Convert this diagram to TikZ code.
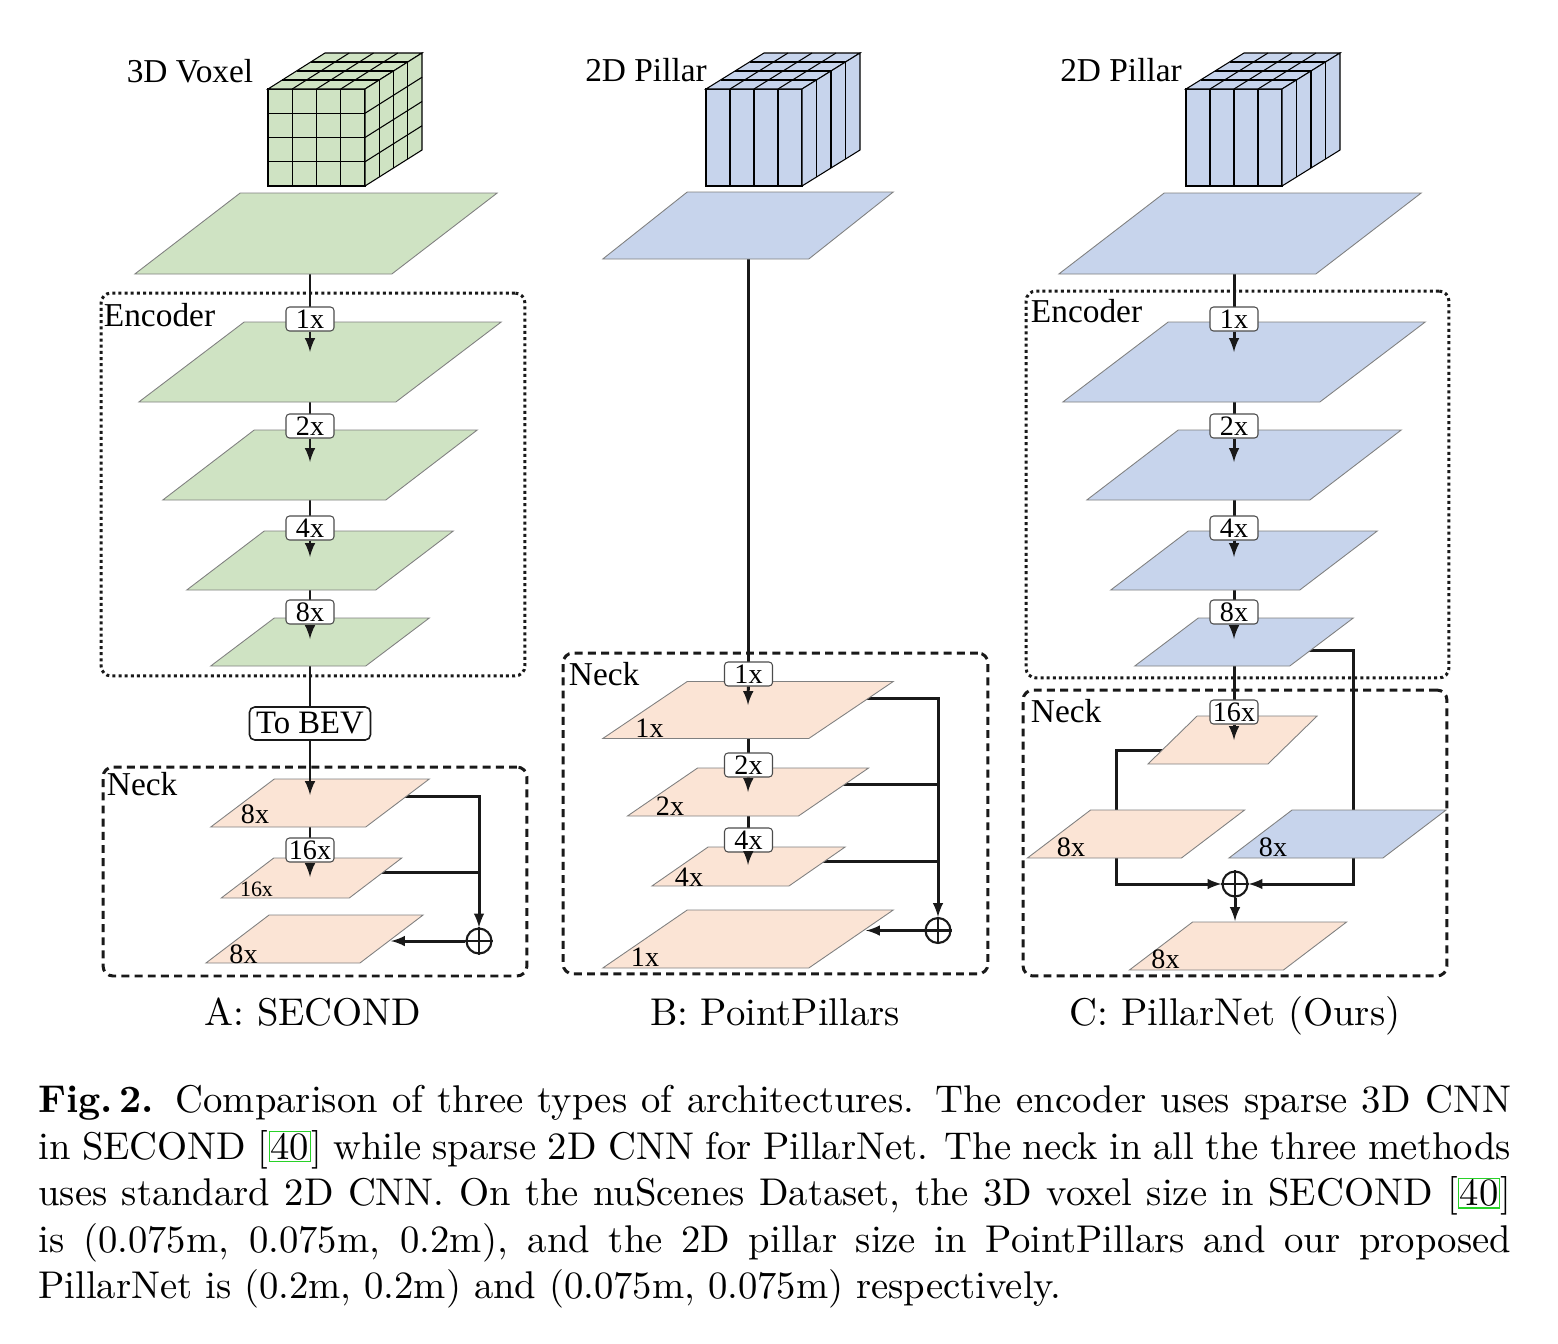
\documentclass[tikz,border=0pt]{standalone}
\usepackage{fontspec}
\newfontfamily\timesfont{Liberation Serif}
\newfontfamily\cmtenfont[BoldFont=lmroman10-bold.otf]{lmroman10-regular.otf}
\usepackage{tikz}
\usetikzlibrary{arrows, positioning}
\definecolor{planegreen}{RGB}{207,227,195}
\definecolor{planeblue}{RGB}{199,212,236}
\definecolor{planepeach}{RGB}{251,228,213}
\definecolor{linkgreen}{RGB}{40,210,40}

\begin{document}
\begin{tikzpicture}[x=0.02cm, y=-0.02cm,
					greenplane/.style={fill=planegreen, draw=gray, line width=0.5pt},
					blueplane/.style={fill=planeblue, draw=gray, line width=0.5pt},
					peachplane/.style={fill=planepeach, draw=gray, line width=0.5pt},
					pics/plane/.style n args={3}{code={
						\filldraw[#3] (-0.705*#1,0.5*#2) -- ++(#1,0) -- ++(0.41*#1,-#2) -- ++(-#1,0) -- cycle;}},
					cubegreen/.style={fill=planegreen, draw=black, line width=0.6pt},
					cubeblue/.style={fill=planeblue, draw=black, line width=0.6pt},
					cubeline/.style={draw=black, line width=0.6pt},
					tagnode/.style={rectangle,
					rounded corners=2pt,
					draw=black!70,
					fill=white,
					line width=0.6pt,
					inner sep=0pt,
					minimum width=0.96cm,
					minimum height=0.48cm,
					font=\timesfont\fontsize{16}{18}\selectfont},
					bevnode/.style={rectangle,
					rounded corners=3pt,
					draw=black!90,
					fill=white,
					line width=0.9pt,
					inner sep=0pt,
					minimum width=2.42cm,
					minimum height=0.66cm,
					font=\timesfont\fontsize{18.6}{21}\selectfont},
					sumnode/.style={circle, draw=black!90, fill=white, line width=1.2pt, minimum size=0.5cm, inner sep=0pt},
					sumline/.style={draw=black!90, line width=1.2pt},
					planelabel/.style={inner sep=0pt, font=\timesfont\fontsize{16}{18}\selectfont},
					smalllabel/.style={inner sep=0pt, font=\timesfont\fontsize{12.5}{14}\selectfont},
					boxlabel/.style={inner sep=0pt, anchor=north west, font=\timesfont\fontsize{19}{21}\selectfont},
					titlenode/.style={inner sep=0pt, font=\timesfont\fontsize{19}{21}\selectfont},
					captionnode/.style={inner sep=0pt, font=\cmtenfont\fontsize{22}{26.5}\selectfont},
					conn/.style={draw=black!90, line width=1.7pt},
					encbox/.style={rectangle, draw=black!90, line width=1.7pt, dash pattern=on 1.7pt off 1.8pt, rounded corners=0.2cm, inner sep=0pt},
					neckbox/.style={rectangle, draw=black!90, line width=1.7pt, dash pattern=on 4.5pt off 3pt, rounded corners=0.2cm, inner sep=0pt}
					]

\useasboundingbox (0,0) rectangle (1558,1343);

% input grids
\node[titlenode] (voxA) at (190,71) {3D Voxel};
\node[titlenode] (pilB) at (646,70) {2D Pillar};
\node[titlenode] (pilC) at (1121,70) {2D Pillar};

%voxel cube
\begin{scope}[shift={(268,186)}]
\filldraw[cubegreen] (0,0) rectangle (97,-97);
\filldraw[cubegreen] (0,-97) -- (97,-97) -- (154,-133) -- (57,-133) -- cycle;
\filldraw[cubegreen] (97,0) -- (154,-36) -- (154,-133) -- (97,-97) -- cycle;
\foreach \i in {1,2,3} {
	\draw[cubeline] (24.25*\i,0) -- ++(0,-97);
	\draw[cubeline] (0,-24.25*\i) -- ++(97,0);
	\draw[cubeline] (24.25*\i,-97) -- ++(57,-36);
	\draw[cubeline] (14.25*\i,-97-9*\i) -- ++(97,0);
	\draw[cubeline] (97+14.25*\i,-9*\i) -- ++(0,-97);
	\draw[cubeline] (97,-24.25*\i) -- ++(57,-36);
}
\end{scope}

%pillar cubes
\foreach \px in {706,1186} {
\begin{scope}[shift={(\px,186)}]
\filldraw[cubeblue] (0,0) rectangle (96,-97);
\filldraw[cubeblue] (0,-97) -- (96,-97) -- (154,-133) -- (58,-133) -- cycle;
\filldraw[cubeblue] (96,0) -- (154,-36) -- (154,-133) -- (96,-97) -- cycle;
\foreach \i in {1,2,3} {
	\draw[cubeline] (24*\i,0) -- ++(0,-97);
	\draw[cubeline] (24*\i,-97) -- ++(58,-36);
	\draw[cubeline] (14.5*\i,-97-9*\i) -- ++(96,0);
	\draw[cubeline] (96+14.5*\i,-9*\i) -- ++(0,-97);
}
\end{scope}
}

% frames
\node[encbox, minimum width=8.48cm, minimum height=7.66cm] (encA) at (313,484.5) {};
\node[neckbox, minimum width=8.48cm, minimum height=4.18cm] (neckA) at (315,871.5) {};
\node[neckbox, minimum width=8.5cm, minimum height=6.42cm] (neckB) at (775.5,813.5) {};
\node[encbox, minimum width=8.46cm, minimum height=7.74cm] (encC) at (1237.5,484.5) {};
\node[neckbox, minimum width=8.48cm, minimum height=5.72cm] (neckC) at (1235,833) {};

\node[boxlabel] (encAlab) at ([shift={(4,11)}]encA.north west) {Encoder};
\node[boxlabel] (neckAlab) at ([shift={(5,6)}]neckA.north west) {Neck};
\node[boxlabel] (neckBlab) at ([shift={(7,10)}]neckB.north west) {Neck};
\node[boxlabel] (encClab) at ([shift={(6,9)}]encC.north west) {Encoder};
\node[boxlabel] (neckClab) at ([shift={(9,10)}]neckC.north west) {Neck};

% coordinates
\coordinate (cA0) at (310,233);
\coordinate (aA1) at (310,352);
\coordinate (aA2) at (310,462);
\coordinate (aA3) at (310,557);
\coordinate (aA4) at (310,639);
\coordinate (aA5) at (310,795);
\coordinate (aA6) at (310,877);
\coordinate (rA5) at (400,796);
\coordinate (rA6) at (377,872);
\coordinate (lA7) at (391,941);

\coordinate (cB0) at (748,226);
\coordinate (aB1) at (748,705);
\coordinate (aB2) at (748,792);
\coordinate (aB3) at (748,865);
\coordinate (rB1) at (860,698);
\coordinate (rB2) at (840,784);
\coordinate (rB3) at (818,861);
\coordinate (lB4) at (866,930.5);

\coordinate (cC0) at (1234,233);
\coordinate (aC1) at (1234,352);
\coordinate (aC2) at (1234,462);
\coordinate (aC3) at (1234,557);
\coordinate (aC4) at (1234,639);
\coordinate (aC5) at (1234,740);
\coordinate (rC4) at (1305,650);
\coordinate (kC) at (1353,884);
\coordinate (lC5) at (1170,750);
\coordinate (jC) at (1116,884);
\coordinate (tC8) at (1235,921);

% sum nodes
\node[sumnode] (sA) at (479,941) {};
\node[sumnode] (sB) at (938,930.5) {};
\node[sumnode] (sC) at (1235,884) {};
\draw[sumline] (sA.north) -- (sA.south) (sA.west) -- (sA.east);
\draw[sumline] (sB.north) -- (sB.south) (sB.west) -- (sB.east);
\draw[sumline] (sC.north) -- (sC.south) (sC.west) -- (sC.east);

% trunks and side lines (under planes)
\draw[conn] (cA0) -- (aA6);
\draw[conn] (cB0) -- (aB3);
\draw[conn] (cC0) -- (aC5);
\draw[conn, -latex] (rA5) -| (sA);
\draw[conn] (rA6) -- (rA6 -| sA);
\draw[conn, -latex] (rB1) -| (sB);
\draw[conn] (rB2) -- (rB2 -| sB);
\draw[conn] (rB3) -- (rB3 -| sB);
\draw[conn, -latex] (rC4) -| (kC) -- (sC);
\draw[conn, -latex] (lC5) -| (jC) -- (sC);

% planes A
\pic (pA0) at (316,233.5) {plane={257}{81}{greenplane}};
\pic (pA1) at (320,362) {plane={257}{80}{greenplane}};
\pic (pA2) at (320,465) {plane={223}{70}{greenplane}};
\pic (pA3) at (320,560.5) {plane={189}{59}{greenplane}};
\pic (pA4) at (320,642) {plane={155}{48}{greenplane}};
\pic (pA5) at (320,803) {plane={155}{48}{peachplane}};
\pic (pA6) at (311.5,878) {plane={128}{40}{peachplane}};
\pic (pA7) at (314.5,939) {plane={154}{48}{peachplane}};

% planes B
\pic (pB0) at (748,225.5) {plane={206}{67}{blueplane}};
\pic (pB1) at (748,710) {plane={206}{57}{peachplane}};
\pic (pB2) at (748,792) {plane={171}{48}{peachplane}};
\pic (pB3) at (748.5,866.5) {plane={137}{39}{peachplane}};
\pic (pB4) at (748,939) {plane={206}{58}{peachplane}};

% planes C
\pic (pC0) at (1240,233.5) {plane={257}{81}{blueplane}};
\pic (pC1) at (1244,362) {plane={257}{80}{blueplane}};
\pic (pC2) at (1244,465) {plane={223}{70}{blueplane}};
\pic (pC3) at (1244,560.5) {plane={189}{59}{blueplane}};
\pic (pC4) at (1244,642) {plane={155}{48}{blueplane}};
\pic (pC5) at (1232.5,740) {plane={120}{48}{peachplane}};
\pic (pC6) at (1136,834) {plane={154}{48}{peachplane}};
\pic (pC7) at (1337.5,834) {plane={154}{48}{blueplane}};
\pic (pC8) at (1238,946) {plane={154}{48}{peachplane}};

% plane labels
\node[planelabel] (lbA5) at (255,814.5) {8x};
\node[smalllabel] (lbA6) at (256.5,889) {16x};
\node[planelabel] (lbA7) at (243.5,954) {8x};
\node[planelabel] (lbB1) at (649.5,728.5) {1x};
\node[planelabel] (lbB2) at (670,806) {2x};
\node[planelabel] (lbB3) at (689,877) {4x};
\node[planelabel] (lbB4) at (645,957) {1x};
\node[planelabel] (lbC6) at (1071,847) {8x};
\node[planelabel] (lbC7) at (1273,847) {8x};
\node[planelabel] (lbC8) at (1165.5,959.5) {8x};

% tags
\node[tagnode] (tA1) at (310,319) {1x};
\node[tagnode] (tA2) at (310,426) {2x};
\node[tagnode] (tA3) at (310,528) {4x};
\node[tagnode] (tA4) at (310,612) {8x};
\node[bevnode] (bevA) at (310,723.5) {To BEV};
\node[tagnode] (tA6) at (310,850) {16x};

\node[tagnode] (tB1) at (748.5,674) {1x};
\node[tagnode] (tB2) at (748.5,765) {2x};
\node[tagnode] (tB3) at (748.5,840) {4x};

\node[tagnode] (tC1) at (1234,319) {1x};
\node[tagnode] (tC2) at (1234,426) {2x};
\node[tagnode] (tC3) at (1234,528) {4x};
\node[tagnode] (tC4) at (1234,612) {8x};
\node[tagnode] (tC5) at (1234,712) {16x};

% arrows into planes
\draw[conn, -latex] (tA1) -- (aA1);
\draw[conn, -latex] (tA2) -- (aA2);
\draw[conn, -latex] (tA3) -- (aA3);
\draw[conn, -latex] (tA4) -- (aA4);
\draw[conn, -latex] (bevA) -- (aA5);
\draw[conn, -latex] (tA6) -- (aA6);
\draw[conn, -latex] (sA) -- (lA7);

\draw[conn, -latex] (tB1) -- (aB1);
\draw[conn, -latex] (tB2) -- (aB2);
\draw[conn, -latex] (tB3) -- (aB3);
\draw[conn, -latex] (sB) -- (lB4);

\draw[conn, -latex] (tC1) -- (aC1);
\draw[conn, -latex] (tC2) -- (aC2);
\draw[conn, -latex] (tC3) -- (aC3);
\draw[conn, -latex] (tC4) -- (aC4);
\draw[conn, -latex] (tC5) -- (aC5);
\draw[conn, -latex] (sC) -- (tC8);

% titles
\node[captionnode, anchor=base] (capA) at (313,1025) {A: SECOND};
\node[captionnode, anchor=base] (capB) at (775,1025) {B: PointPillars};
\node[captionnode, anchor=base] (capC) at (1235,1025) {C: PillarNet (Ours)};

% figure caption
\node[captionnode, anchor=north west, align=left] (figcap) at (38,1085) {%
\makebox[29.46cm][s]{\textbf{Fig.\,2.} Comparison of three types of architectures. The encoder uses sparse 3D CNN}\\
\makebox[29.46cm][s]{in SECOND [{\fboxsep=0.5pt\fboxrule=0.6pt\color{linkgreen}\fbox{\color{black}40}}] while sparse 2D CNN for PillarNet. The neck in all the three methods}\\
\makebox[29.46cm][s]{uses standard 2D CNN. On the nuScenes Dataset, the 3D voxel size in SECOND [{\fboxsep=0.5pt\fboxrule=0.6pt\color{linkgreen}\fbox{\color{black}40}}]}\\
\makebox[29.46cm][s]{is (0.075m, 0.075m, 0.2m), and the 2D pillar size in PointPillars and our proposed}\\
PillarNet is (0.2m, 0.2m) and (0.075m, 0.075m) respectively.};

\end{tikzpicture}
\end{document}
